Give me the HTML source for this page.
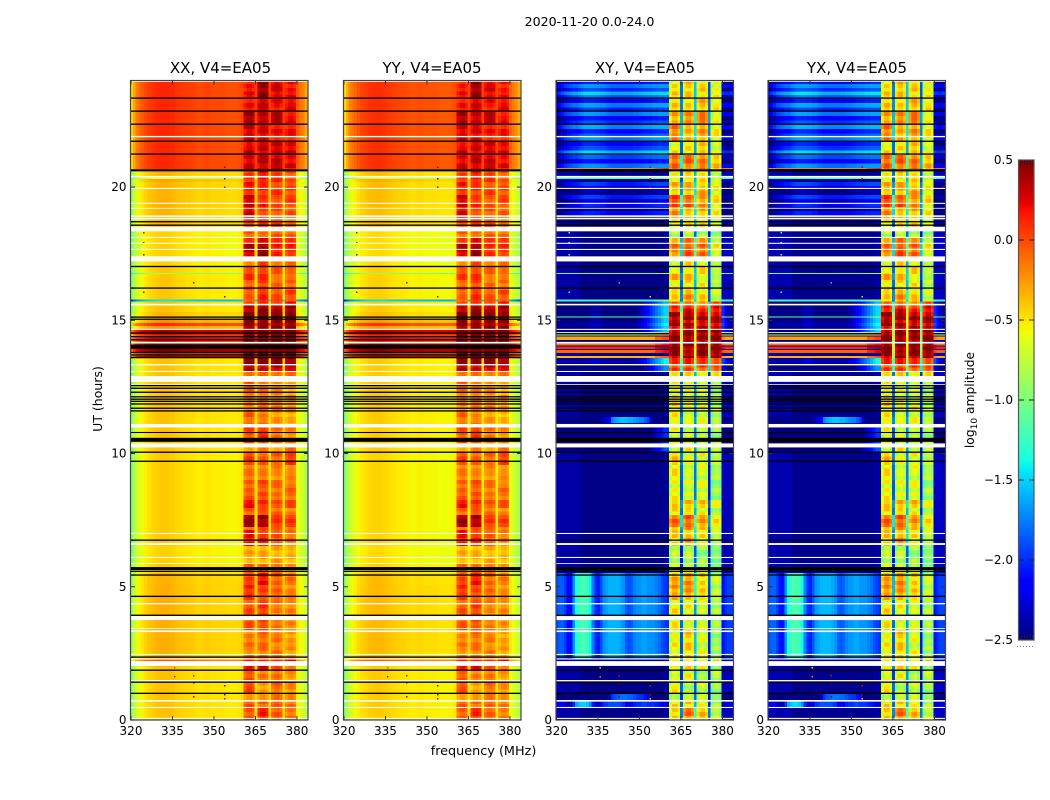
<!DOCTYPE html>
<html>
<head>
<meta charset="utf-8">
<title>2020-11-20 amplitude waterfall</title>
<style>
html,body{margin:0;padding:0;background:#fff;}
svg{display:block;font-family:"DejaVu Sans","Liberation Sans",sans-serif;}
</style>
</head>
<body>
<svg id="chart" xmlns="http://www.w3.org/2000/svg" width="1050" height="800" viewBox="0 0 1050 800">
  <rect x="0" y="0" width="1050" height="800" fill="#fff"/>
  <text x="589.5" y="26" font-size="12.6" text-anchor="middle" fill="#000">2020-11-20 0.0-24.0</text>
  <text x="220.5" y="73" font-size="15" text-anchor="middle" fill="#000">XX, V4=EA05</text>
  <text x="432" y="73" font-size="15" text-anchor="middle" fill="#000">YY, V4=EA05</text>
  <text x="645" y="73" font-size="15" text-anchor="middle" fill="#000">XY, V4=EA05</text>
  <text x="857" y="73" font-size="15" text-anchor="middle" fill="#000">YX, V4=EA05</text>
  <text x="483.5" y="755" font-size="12.8" text-anchor="middle" fill="#000">frequency (MHz)</text>
  <text transform="translate(102,399) rotate(-90)" font-size="12.5" text-anchor="middle" fill="#000">UT (hours)</text>
  <text transform="translate(974,400) rotate(-90)" font-size="12.3" text-anchor="middle" fill="#000">log<tspan font-size="9" dy="3">10</tspan><tspan dy="-3"> amplitude</tspan></text>
  <g id="panels"></g>
  <g id="colorbar"></g>
</svg>
<script>
/* ---- axis labels ---- */
var freqTicks = [320, 335, 350, 365, 380];
var hourTicks = [0, 5, 10, 15, 20];
var colorTicks = [0.5, 0.0, -0.5, -1.0, -1.5, -2.0, -2.5];
var colorTickLabels = ['0.5', '0.0', '\u22120.5', '\u22121.0', '\u22121.5', '\u22122.0', '\u22122.5'];
var panelNames = ['xx', 'yy', 'xy', 'yx'];
var panelAdjust = [0, -0.03, 0, 0.02];

/* ---- log10 amplitude of the continuum per 1 MHz channel ---- */
var parContinuum = [-0.95,-0.8,-0.66,-0.6,-0.55,-0.5,-0.46,-0.44,-0.42,-0.4,-0.39,-0.38,-0.38,-0.38,-0.39,-0.4,-0.42,-0.43,-0.44,-0.45,-0.46,-0.46,-0.47,-0.48,-0.5,-0.5,-0.49,-0.48,-0.48,-0.5,-0.5,-0.5,-0.5,-0.5,-0.51,-0.52,-0.52,-0.52,-0.52,-0.5,-0.48,-0.42,-0.42,-0.42,-0.42,-0.45,-0.42,-0.42,-0.42,-0.42,-0.45,-0.42,-0.42,-0.42,-0.42,-0.45,-0.42,-0.42,-0.42,-0.42,-0.55,-0.62,-0.68,-0.78,-0.88];

/* ---- cross-hand off-band spectral shapes ---- */
var shapeQuiet = [-2.3,-2.4,-2.4,-2.4,-2.4,-2.4,-2.4,-2.4,-2.4,-2.48,-2.48,-2.48,-2.48,-2.48,-2.48,-2.48,-2.48,-2.48,-2.48,-2.48,-2.48,-2.48,-2.48,-2.48,-2.48,-2.48,-2.48,-2.48,-2.48,-2.48,-2.48,-2.48,-2.48,-2.48,-2.48,-2.48,-2.48,-2.48,-2.45,-2.45,-2.4,-2,-2,-2,-2,-2,-2,-2,-2,-2,-2,-2,-2,-2,-2,-2,-2,-2,-2,-2,-2.35,-2.35,-2.35,-2.35,-2.35];
var shapeStripes = [-1.9,-1.85,-1.85,-1.95,-2.1,-2.1,-1.7,-1.35,-1.25,-1.2,-1.2,-1.25,-1.4,-1.75,-2.0,-2.05,-1.9,-1.7,-1.65,-1.6,-1.6,-1.6,-1.6,-1.65,-1.7,-1.85,-1.9,-1.85,-1.75,-1.7,-1.7,-1.65,-1.65,-1.7,-1.7,-1.7,-1.75,-1.8,-1.9,-1.95,-2.0,-2,-2,-2,-2,-2,-2,-2,-2,-2,-2,-2,-2,-2,-2,-2,-2,-2,-2,-2,-2.1,-2.0,-1.95,-1.95,-2.0];
var shapeWash = [-2.3,-2.2,-2.1,-2.0,-1.95,-1.9,-1.85,-1.85,-1.8,-1.75,-1.7,-1.7,-1.7,-1.7,-1.72,-1.72,-1.75,-1.75,-1.8,-1.82,-1.85,-1.85,-1.85,-1.85,-1.85,-1.85,-1.85,-1.85,-1.82,-1.82,-1.8,-1.78,-1.76,-1.75,-1.75,-1.72,-1.72,-1.7,-1.7,-1.7,-1.7,-2,-2,-2,-2,-2,-2,-2,-2,-2,-2,-2,-2,-2,-2,-2,-2,-2,-2,-2,-2.2,-2.25,-2.25,-2.2,-2.2];
var shapeHot = [0,0,0,0,0,0,0,0,0,0,0,0,0,0,0,0,0,0,0,0,0,0,0,0,0,0,0,0,0,0,0,0,0,0,0,0,0.2,0.2,0.25,0.3,0.3,0,0,0,0,0,0,0,0,0,0,0,0,0,0,0,0,0,0,0,0.1,0,0,0,0];
var shapeEdge = [-2.5,-2.5,-2.5,-2.5,-2.5,-2.5,-2.5,-2.5,-2.5,-2.5,-2.5,-2.5,-2.45,-2.4,-2.4,-2.4,-2.45,-2.5,-2.5,-2.5,-2.5,-2.5,-2.5,-2.5,-2.5,-2.5,-2.5,-2.5,-2.5,-2.45,-2.4,-2.3,-2.2,-2.1,-2.0,-1.9,-1.8,-1.7,-1.6,-1.5,-1.5,-2,-2,-2,-2,-2,-2,-2,-2,-2,-2,-2,-2,-2,-2,-2,-2,-2,-2,-2,-2.0,-2.2,-2.4,-2.45,-2.45];
var shapeBlob = [-2.45,-2.45,-2.45,-2.45,-2.45,-2.45,-2.45,-2.45,-2.45,-2.45,-2.45,-2.45,-2.45,-2.45,-2.45,-2.45,-2.3,-2.2,-2.1,-2,-1.6,-1.5,-1.45,-1.4,-1.4,-1.4,-1.45,-1.45,-1.5,-1.55,-1.6,-1.6,-1.7,-1.8,-2.2,-2.45,-2.45,-2.45,-2.45,-2.45,-2.45,-2,-2,-2,-2,-2,-2,-2,-2,-2,-2,-2,-2,-2,-2,-2,-2,-2,-2,-2,-2.45,-2.45,-2.45,-2.45,-2.45];
var crossShapes = [shapeQuiet, shapeStripes, shapeWash, shapeHot, shapeEdge, shapeBlob];

/* ---- sub-band layout: first channel of each 4 MHz band, and in-band ripple ---- */
var subbandFirstChannel = [41, 46, 51, 56];
var parProfile = [-0.08, 0, 0.02, -0.05];
var crossProfile = [-0.15, 0.03, 0.05, -0.12];
var crossGapDrop = [-1.3, -1.1, -1.45];

/* ---- row-to-row scatter, read as a repeating streak pattern ---- */
var rowTexture = [0.6,-0.8,0.2,1,-0.4,-1,0.7,0.1,-0.6,0.9,-0.2,0.4,-0.9,0.5,-0.3,0.8,-0.7,0,1,-0.5,0.3,-1,0.6];

/* ---- time bands: start hour, continuum offset, sub-band levels ---- */
var bandStart = [0,0.45,0.75,1.01,1.43,1.88,2.21,2.30,3.38,4.50,5.07,5.52,5.89,6.53,7.13,7.25,7.70,7.96,8.26,9.01,9.57,10.06,10.40,11.00,11.15,11.37,11.64,12.20,12.91,13.10,13.36,13.59,13.66,13.78,13.89,13.92,14.02,14.05,14.19,14.27,14.39,14.43,14.47,14.52,14.56,14.68,14.79,14.90,15.02,15.10,15.15,15.32,15.58,15.70,15.78,16.14,16.52,16.73,16.78,17.00,17.21,17.40,17.90,18.09,18.51,18.81,19.26,19.71,20.20,20.30,20.38,20.67,20.72,21.21,21.70,22.34,22.83,23.31];
var parOffset = [0,0,0,0,0,0,0.35,0.06,0.06,0.06,0.05,-0.02,-0.05,-0.03,-0.03,-0.03,-0.03,-0.03,-0.03,-0.03,-0.03,0,0,0,0,0,0,0,0,0,0,0.85,0.5,0.9,0.9,0.9,0.95,0.95,0.6,0.7,0.5,0.5,0.8,0.8,0.8,0.15,0.5,0.15,0.05,0.05,0.05,0,0,-1.05,-0.02,-0.02,-0.02,-0.5,-0.02,-0.05,-0.05,-0.05,-0.05,-0.05,0.05,0.05,0.05,0.05,0.1,-0.25,0.05,0.5,0.5,0.5,0.5,0.5,0.5,0.5];
var parSub1 = [-0.02,-0.05,-0.15,0.02,-0.05,0.3,0.2,-0.15,-0.02,0.1,0.05,-0.1,-0.3,0.2,-0.05,0.42,-0.05,0.25,-0.05,-0.15,0.02,-0.2,0,-0.05,-0.05,-0.05,-0.2,-0.05,-0.1,0.35,0.5,0.7,0.7,0.7,0.7,0.7,0.8,0.8,0.7,0.7,0.8,0.7,0.7,0.8,0.8,0.5,0.5,0.5,0.6,0.6,0.6,0.35,0,0,-0.05,-0.05,0.05,0.05,0.05,-0.1,-0.05,0.35,0.15,-0.05,0.05,0.3,0.3,0.15,0.1,0.1,0.1,0.3,0.3,0.3,0.3,0.45,0.2,0.2];
var parSub2 = [0.15,-0.1,-0.2,-0.25,-0.15,0.3,0.2,-0.1,0.05,0.05,0.2,-0.1,-0.3,0.12,0,0.4,0,0.12,-0.02,-0.15,-0.05,-0.2,0.1,-0.15,-0.15,-0.15,-0.1,-0.15,-0.1,0.3,0.5,0.7,0.7,0.7,0.7,0.7,0.8,0.8,0.7,0.7,0.8,0.7,0.7,0.8,0.8,0.5,0.5,0.5,0.6,0.6,0.6,0.45,0.2,0.1,0.1,0.05,0.1,0.1,0.1,0,0.1,0.45,0.2,-0.1,0.1,0.05,0.1,0.1,0.2,0.2,0.15,0.35,0.35,0.3,0.3,0.3,0.35,0.45];
var parSub3 = [-0.02,-0.05,-0.15,-0.1,-0.1,0,0.2,-0.15,-0.15,-0.1,-0.05,-0.15,-0.3,-0.05,-0.05,0.1,-0.1,-0.05,-0.1,-0.2,-0.05,-0.25,-0.1,-0.25,-0.25,-0.25,-0.15,-0.2,-0.1,0.35,0.5,0.7,0.7,0.7,0.7,0.7,0.8,0.8,0.7,0.7,0.8,0.7,0.7,0.8,0.8,0.5,0.5,0.5,0.55,0.55,0.55,0.4,0.1,0,0,-0.1,-0.05,-0.05,-0.05,-0.1,-0.05,0.15,0.15,-0.05,0.05,0,0,0.05,0.1,0.1,0.1,0.3,0.35,0.3,0.2,0.35,0.2,0.3];
var parSub4 = [-0.12,-0.15,-0.2,-0.2,-0.25,-0.1,0.2,-0.25,-0.2,-0.2,-0.15,-0.2,-0.35,-0.15,-0.1,0.05,-0.15,0,-0.1,-0.2,0.05,-0.1,-0.2,-0.3,-0.3,-0.3,-0.25,-0.3,-0.15,0.3,0.5,0.7,0.7,0.7,0.7,0.7,0.8,0.8,0.7,0.7,0.8,0.7,0.7,0.8,0.8,0.5,0.5,0.5,0.55,0.55,0.55,0.4,0.15,0,0.05,-0.1,-0.1,-0.1,-0.1,-0.1,-0.1,0.1,0.15,-0.05,-0.1,-0.05,0.05,0,0,0,0,0.2,0.25,0.25,0.2,0.25,0.25,0.2];
var crossShapeIndex = [0,1,5,0,0,0,0,1,1,1,1,0,0,0,0,0,0,0,0,0,0,4,4,0,5,0,0,0,0,4,4,3,0,3,0,3,0,3,0,3,0,3,0,3,4,4,4,4,4,3,4,4,4,3,0,0,0,3,0,0,0,0,0,0,0,2,2,2,0,3,0,3,2,2,2,2,2,2];
var crossOffset = [0,-0.3,-0.4,0,0,0,0,0,0,0,0,0,0,0,0,0,0,0,0,0,0,-0.4,-0.5,0,-0.15,0,0,0,0,-0.2,0.1,-0.35,0,-0.1,0,0.1,0,-0.15,0,-0.3,0,-0.75,0,-0.65,0,0,0.1,0,0,-1.1,0,0,-0.1,-1.25,0,0,0,-1.1,0,0,0,0,0,0,0,-0.45,-0.45,-0.5,0,-1.2,0,-0.2,-0.15,-0.05,-0.15,-0.1,-0.15,-0.05];
var crossSub1 = [-0.45,-0.55,-0.7,-0.55,-0.7,-0.45,-0.5,-0.6,-0.55,-0.3,-0.3,-0.75,-0.8,-0.45,-0.35,-0.15,-0.5,-0.4,-0.6,-0.55,-0.45,-0.6,-0.65,-0.55,-0.45,-0.55,-0.5,-0.6,-0.5,-0.05,0.1,0.4,0.4,0.45,0.45,0.5,0.5,0.5,0.45,0.45,0.45,0.4,0.4,0.45,0.45,0.35,0.4,0.35,0.4,0.4,0.4,0.1,-0.1,-0.5,-0.45,-0.55,-0.4,-0.4,-0.55,-0.55,-0.6,-0.2,-0.3,-0.8,-0.6,-0.2,0,-0.4,-0.6,-0.6,-0.55,-0.2,-0.1,-0.55,-0.2,-0.3,-0.45,-0.5];
var crossSub2 = [-0.15,-0.5,-0.7,-0.8,-0.6,-0.4,-0.5,-0.45,-0.6,-0.25,-0.25,-0.75,-0.8,-0.35,-0.3,-0.1,-0.5,-0.35,-0.7,-0.7,-0.65,-0.6,-0.7,-0.7,-0.6,-0.7,-0.6,-0.65,-0.5,0,0.15,0.4,0.4,0.45,0.45,0.5,0.5,0.5,0.45,0.45,0.45,0.4,0.4,0.45,0.45,0.35,0.4,0.35,0.4,0.4,0.4,0.2,0,-0.4,-0.3,-0.5,-0.4,-0.4,-0.45,-0.55,-0.6,-0.05,-0.2,-0.75,-0.5,-0.35,-0.1,-0.35,-0.5,-0.5,-0.5,-0.2,-0.1,-0.55,-0.35,-0.3,-0.45,-0.45];
var crossSub3 = [-0.35,-0.6,-0.8,-0.75,-0.8,-0.6,-0.5,-0.65,-0.7,-0.5,-0.45,-0.85,-0.9,-0.55,-0.4,-0.25,-0.6,-0.45,-0.65,-0.7,-0.6,-0.7,-0.75,-0.7,-0.65,-0.7,-0.65,-0.7,-0.55,0,0.1,0.4,0.4,0.45,0.45,0.5,0.5,0.5,0.45,0.45,0.45,0.4,0.4,0.45,0.45,0.3,0.35,0.3,0.35,0.35,0.35,0.1,-0.1,-0.5,-0.45,-0.6,-0.5,-0.5,-0.5,-0.55,-0.6,-0.1,-0.2,-0.85,-0.5,-0.35,-0.25,-0.35,-0.5,-0.5,-0.5,-0.2,-0.15,-0.45,-0.3,-0.2,-0.4,-0.45];
var crossSub4 = [-0.75,-0.85,-0.95,-0.9,-0.8,-0.85,-0.5,-0.9,-0.85,-0.8,-0.75,-1,-1,-0.75,-0.6,-0.55,-0.8,-0.65,-0.9,-0.85,-0.8,-0.8,-0.9,-0.8,-0.8,-0.8,-0.8,-0.85,-0.6,-0.05,0.1,0.4,0.4,0.45,0.45,0.5,0.5,0.5,0.45,0.45,0.45,0.4,0.4,0.45,0.45,0.3,0.35,0.3,0.35,0.35,0.35,0.1,-0.1,-0.7,-0.7,-0.8,-0.8,-0.8,-0.8,-0.85,-0.85,-0.6,-0.7,-0.9,-0.7,-0.6,-0.5,-0.6,-0.7,-0.7,-0.7,-0.4,-0.4,-0.7,-0.55,-0.55,-0.55,-0.6];

/* ---- flagged (white) intervals in hours ---- */
var flagStart = [0.04,0.45,0.69,1.45,2.03,2.27,2.44,3.30,3.42,3.75,4.34,5.86,6.08,6.57,6.98,10.23,10.98,12.58,12.69,13.06,13.31,14.13,14.64,15.56,17.21,17.64,17.87,18.09,18.34,18.79,18.88,19.19,19.37,19.93,20.36,21.87,23.95];
var flagEnd = [0.08,0.49,0.75,1.50,2.21,2.31,2.48,3.36,3.45,3.90,4.39,5.89,6.12,6.64,7.02,10.38,11.11,12.61,12.91,13.10,13.36,14.19,14.68,15.62,17.40,17.68,17.91,18.13,18.51,18.85,18.94,19.22,19.41,19.97,20.42,21.92,24.0];

/* ---- black rows in every panel, and in parallel hands only ---- */
var blackLines = [1.00,1.42,1.87,2.36,3.93,4.64,5.44,5.58,6.75,9.71,10.05,11.60,11.70,11.86,11.96,12.04,12.13,12.30,12.45,12.55,16.21,17.02,18.57,18.70,21.24,21.72,22.36,22.85,23.34];
var blackBlockStart = [5.63,10.44,10.77,20.59];
var blackBlockEnd = [5.74,10.59,10.81,20.67];
var parOnlyLines = [13.60,13.70,13.79,14.27,14.39,14.52,15.04,15.12];
var parOnlyBlockStart = [13.93];
var parOnlyBlockEnd = [14.08];

/* ---- isolated RFI samples ---- */
var rfiFreq = [353.6,353.6,353.6,324.4,324.4,324.4,342.5,342.5,342.5,353.6,353.6,353.6,335.6,335.6,342.5,324.4,353.6];
var rfiTime = [20.74,20.3,19.98,18.28,17.9,17.45,1.65,1.38,0.86,1.28,0.94,0.79,1.95,1.61,16.4,16.05,15.87];
var rfiPar = [0.4,0.4,0.45,0.3,0.4,0.4,0.2,0.5,0.4,0.4,0.4,0.2,0,0.2,0.3,0.4,0.4];
var rfiCross = [0.3,0.2,0.4,-1.1,-0.6,-1.1,0.2,0.4,0.4,0.2,0.3,-0.4,-0.4,-0.1,-1.5,-1.2,-0.8];

/* ---- scales ---- */
var SVGNS = 'http://www.w3.org/2000/svg';
var panelLeft = [131, 344, 556.5, 768.5];
var plotWidth = 177;
var plotTop = 80.5;
var plotBottom = 720;
var freqMin = 320;
var freqMax = 384;
var hourMax = 24;
var colorMin = -2.5;
var colorMax = 0.5;
var rowStep = 0.15;

function xScale(p, f) {
  return panelLeft[p] + (f - freqMin) / (freqMax - freqMin) * plotWidth;
}
function yScale(t) {
  return plotBottom - t / hourMax * (plotBottom - plotTop);
}
function interp(stops, n) {
  for (var k = 1; k < stops.length; k++) {
    if (n <= stops[k][0]) {
      var a = stops[k - 1], b = stops[k];
      return a[1] + (b[1] - a[1]) * (n - a[0]) / (b[0] - a[0]);
    }
  }
  return stops[stops.length - 1][1];
}
var jetR = [[0,0],[0.35,0],[0.66,1],[0.89,1],[1,0.5]];
var jetG = [[0,0],[0.125,0],[0.375,1],[0.64,1],[0.91,0],[1,0]];
var jetB = [[0,0.5],[0.11,1],[0.34,1],[0.65,0],[1,0]];
function colorOf(v) {
  var n = Math.max(0, Math.min(1, (v - colorMin) / (colorMax - colorMin)));
  return 'rgb(' + Math.round(interp(jetR, n) * 255) + ',' + Math.round(interp(jetG, n) * 255) + ',' + Math.round(interp(jetB, n) * 255) + ')';
}
function subbandOf(i) {
  for (var s = 0; s < subbandFirstChannel.length; s++) {
    var j = i - subbandFirstChannel[s];
    if (j >= 0 && j < 4) return [s, j];
  }
  return null;
}
function gapOf(i) {
  for (var s = 0; s < 3; s++) {
    if (i === subbandFirstChannel[s] + 4) return s;
  }
  return -1;
}
var parSubs = [parSub1, parSub2, parSub3, parSub4];
var crossSubs = [crossSub1, crossSub2, crossSub3, crossSub4];

function parValue(b, i) {
  var sb = subbandOf(i);
  if (sb) return parSubs[sb[0]][b] + parProfile[sb[1]];
  return parContinuum[i] + parOffset[b];
}
function crossValue(b, i) {
  var sb = subbandOf(i);
  if (sb) return crossSubs[sb[0]][b] + crossProfile[sb[1]];
  var g = gapOf(i);
  if (g >= 0) return crossSubs[g][b] + crossGapDrop[g];
  return crossShapes[crossShapeIndex[b]][i] + crossOffset[b];
}
function shape(parent, tag) {
  var el = document.createElementNS(SVGNS, tag);
  parent.appendChild(el);
  return el;
}
function place(el, x, y, w, h) {
  el.setAttribute('x', x);
  el.setAttribute('y', y);
  el.setAttribute('width', w);
  el.setAttribute('height', h);
}

/* ---- draw panels ---- */
var panelsRoot = document.getElementById('panels');
var channelCount = parContinuum.length;
var channelOrigin = 319.7;

panelNames.forEach(function (name, p) {
  var isCross = p >= 2;
  var g = shape(panelsRoot, 'g');
  
  

  var cells = shape(g, 'g');
  
  
  cells.setAttribute('shape-rendering', 'crispEdges');

  for (var b = 0; b < bandStart.length; b++) {
    var t0 = bandStart[b];
    var t1 = b + 1 < bandStart.length ? bandStart[b + 1] : hourMax;
    var rowCount = Math.max(1, Math.round((t1 - t0) / rowStep));
    for (var i = 0; i < channelCount; i++) {
      var f0 = Math.max(freqMin, channelOrigin + i);
      var f1 = Math.min(freqMax, channelOrigin + i + 1);
      if (f1 <= f0) continue;
      var sb = subbandOf(i);
      var washed = isCross && crossShapeIndex[b] === 2 && !sb && gapOf(i) < 0;
      var textured = !!sb || washed;
      var amp = washed ? 0.28 : (isCross ? 0.14 : 0.09);
      var n = textured ? rowCount : 1;
      var base = (isCross ? crossValue(b, i) : parValue(b, i)) + panelAdjust[p];
      for (var r = 0; r < n; r++) {
        var rt0 = t0 + (t1 - t0) * r / n;
        var rt1 = t0 + (t1 - t0) * (r + 1) / n;
        var idx = Math.floor(rt0 / rowStep) + (sb ? sb[0] * 5 : 0);
        var v = textured ? base + amp * rowTexture[idx % rowTexture.length] : base;
        var cell = shape(cells, 'rect');
        
        
        place(cell, xScale(p, f0), yScale(rt1), xScale(p, f1) - xScale(p, f0), yScale(rt0) - yScale(rt1));
        cell.setAttribute('fill', colorOf(v));
      }
    }
  }

  rfiFreq.forEach(function (f, k) {
    var dot = shape(cells, 'rect');
    
    
    place(dot, xScale(p, f), yScale(rfiTime[k] + 0.04), 1.5, 1.5);
    dot.setAttribute('fill', colorOf(isCross ? rfiCross[k] : rfiPar[k]));
  });

  flagStart.forEach(function (s, k) {
    var flag = shape(g, 'rect');
    
    
    place(flag, xScale(p, freqMin), yScale(flagEnd[k]), plotWidth, yScale(s) - yScale(flagEnd[k]));
    flag.setAttribute('fill', '#fff');
  });

  function blackRow(t0, t1) {
    var row = shape(g, 'rect');
    
    
    place(row, xScale(p, freqMin), yScale(t1), plotWidth, yScale(t0) - yScale(t1));
    row.setAttribute('fill', '#000');
  }
  blackLines.forEach(function (t) { blackRow(t - 0.025, t + 0.025); });
  blackBlockStart.forEach(function (s, k) { blackRow(s, blackBlockEnd[k]); });
  if (!isCross) {
    parOnlyLines.forEach(function (t) { blackRow(t - 0.025, t + 0.025); });
    parOnlyBlockStart.forEach(function (s, k) { blackRow(s, parOnlyBlockEnd[k]); });
  }

  var frame = shape(g, 'rect');
  
  
  place(frame, xScale(p, freqMin) - 0.5, plotTop, plotWidth + 0.5, plotBottom - plotTop);
  frame.setAttribute('fill', 'none');
  frame.setAttribute('stroke', '#444');
  frame.setAttribute('stroke-width', '1.2');

  freqTicks.forEach(function (f) {
    var x = xScale(p, f);
    [[plotBottom, plotBottom - 4], [plotTop, plotTop + 4]].forEach(function (pair) {
      var tick = shape(g, 'line');
      
      
      tick.setAttribute('x1', x);
      tick.setAttribute('x2', x);
      tick.setAttribute('y1', pair[0]);
      tick.setAttribute('y2', pair[1]);
      tick.setAttribute('stroke', '#333');
    });
    var label = shape(g, 'text');
    
    
    label.setAttribute('x', x);
    label.setAttribute('y', 735);
    label.setAttribute('font-size', '12');
    label.setAttribute('text-anchor', 'middle');
    label.textContent = String(f);
  });

  hourTicks.forEach(function (h) {
    var y = yScale(h);
    var left = xScale(p, freqMin);
    [[left, left + 4], [left + plotWidth, left + plotWidth - 4]].forEach(function (pair) {
      var tick = shape(g, 'line');
      
      
      tick.setAttribute('x1', pair[0]);
      tick.setAttribute('x2', pair[1]);
      tick.setAttribute('y1', y);
      tick.setAttribute('y2', y);
      tick.setAttribute('stroke', '#333');
    });
    var label = shape(g, 'text');
    
    
    label.setAttribute('x', left - 4.5);
    label.setAttribute('y', y + 4);
    label.setAttribute('font-size', '12');
    label.setAttribute('text-anchor', 'end');
    label.textContent = String(h);
  });
});

/* ---- colorbar ---- */
var cbRoot = document.getElementById('colorbar');
var cbLeft = 1019;
var cbWidth = 15;
var cbTop = 160;
var cbBottom = 640;
function cbScale(v) {
  return cbBottom - (v - colorMin) / (colorMax - colorMin) * (cbBottom - cbTop);
}
for (var yy = cbTop; yy < cbBottom; yy += 2) {
  var seg = shape(cbRoot, 'rect');
  
  
  place(seg, cbLeft, yy, cbWidth, 2.4);
  seg.setAttribute('fill', colorOf(colorMin + (cbBottom - yy - 1) / (cbBottom - cbTop) * (colorMax - colorMin)));
  seg.setAttribute('shape-rendering', 'crispEdges');
}
var cbFrame = shape(cbRoot, 'rect');


place(cbFrame, cbLeft - 0.5, cbTop, cbWidth + 0.5, cbBottom - cbTop);
cbFrame.setAttribute('fill', 'none');
cbFrame.setAttribute('stroke', '#555');
cbFrame.setAttribute('stroke-width', '1.2');

colorTicks.forEach(function (v, k) {
  var y = cbScale(v);
  var label = shape(cbRoot, 'text');
  
  
  label.setAttribute('x', 1013);
  label.setAttribute('y', y + 4);
  label.setAttribute('font-size', '12');
  label.setAttribute('text-anchor', 'end');
  label.textContent = colorTickLabels[k];
  if (k > 0 && k < colorTicks.length - 1) {
    [[cbLeft, cbLeft + 5], [cbLeft + cbWidth, cbLeft + cbWidth - 5]].forEach(function (pair) {
      var tick = shape(cbRoot, 'line');
      
      
      tick.setAttribute('x1', pair[0]);
      tick.setAttribute('x2', pair[1]);
      tick.setAttribute('y1', y);
      tick.setAttribute('y2', y);
      tick.setAttribute('stroke', '#222');
    });
  }
});

[[cbTop, cbTop + 5], [cbBottom, cbBottom - 5]].forEach(function (pair) {
  for (var n = 0; n < 5; n++) {
    var mini = shape(cbRoot, 'line');
    
    
    mini.setAttribute('x1', cbLeft + 2.5 + n * 2.8);
    mini.setAttribute('x2', cbLeft + 2.5 + n * 2.8);
    mini.setAttribute('y1', pair[0]);
    mini.setAttribute('y2', pair[1]);
    mini.setAttribute('stroke', '#222');
    mini.setAttribute('stroke-width', '0.8');
  }
});

var dots = shape(cbRoot, 'line');


dots.setAttribute('x1', 1017);
dots.setAttribute('x2', 1035);
dots.setAttribute('y1', 646.5);
dots.setAttribute('y2', 646.5);
dots.setAttribute('stroke', '#777');
dots.setAttribute('stroke-dasharray', '1 2');
</script>
</body>
</html>
